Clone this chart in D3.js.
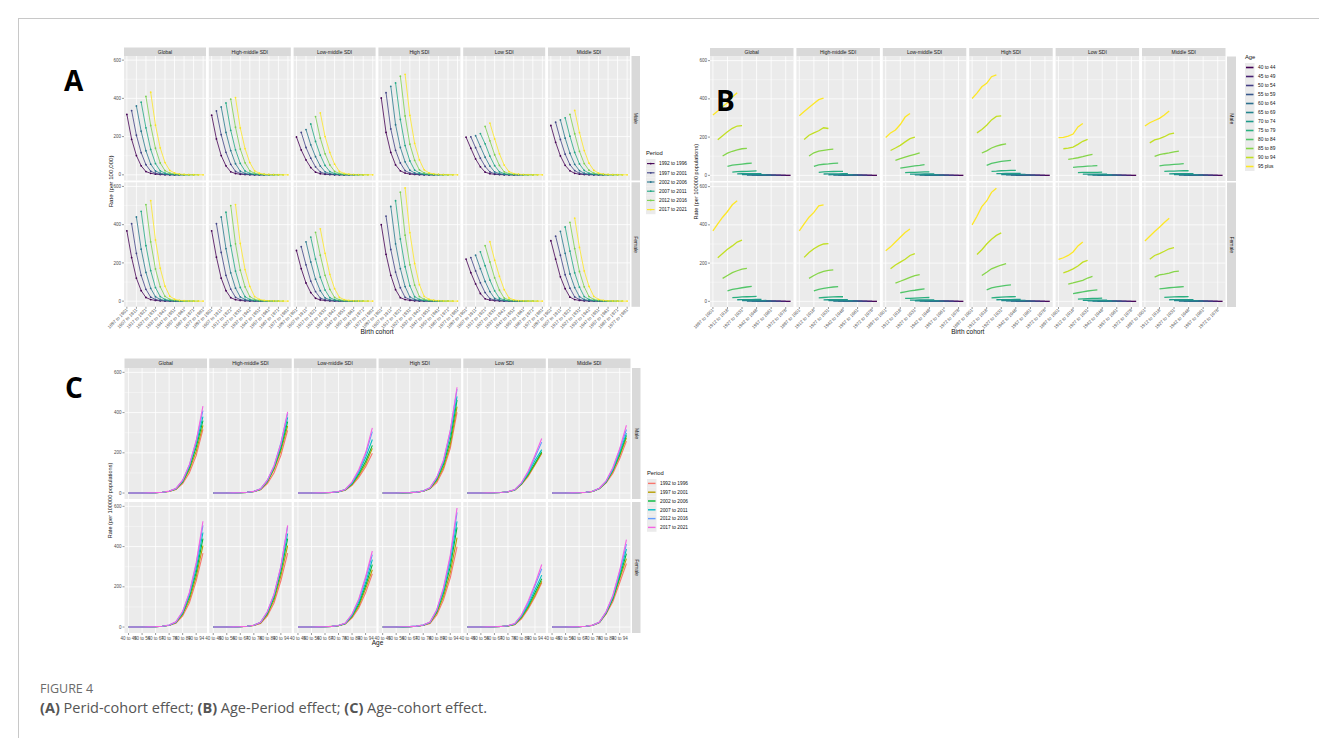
<!DOCTYPE html>
<html>
<head>
<meta charset="utf-8">
<script src="https://cdn.jsdelivr.net/npm/d3@7"></script>
<style>
  body { margin: 0; background: #fff; }
  svg { display: block; }
</style>
</head>
<body>
<div id="chart"></div>
<script>
// facet labels and factor levels
const regions = ["Global", "High-middle SDI", "Low-middle SDI", "High SDI", "Low SDI", "Middle SDI"];
const sexes = ["Male", "Female"];
const periods = ["1992 to 1996", "1997 to 2001", "2002 to 2006", "2007 to 2011", "2012 to 2016", "2017 to 2021"];
const ages = ["40 to 44", "45 to 49", "50 to 54", "55 to 59", "60 to 64", "65 to 69",
  "70 to 74", "75 to 79", "80 to 84", "85 to 89", "90 to 94", "95 plus"];
const cohorts = ["1897 to 1901", "1902 to 1906", "1907 to 1911", "1912 to 1916", "1917 to 1921",
  "1922 to 1926", "1927 to 1931", "1932 to 1936", "1937 to 1941", "1942 to 1946", "1947 to 1951",
  "1952 to 1956", "1957 to 1961", "1962 to 1966", "1967 to 1971", "1972 to 1976", "1977 to 1981"];
const yBreaks = [0, 200, 400, 600];

// rates per 100,000: one row per age group, one column per period
const globalMale = [
  [0.1, 0.1, 0.1, 0.1, 0.1, 0.1], [0.2, 0.2, 0.2, 0.2, 0.2, 0.2], [0.4, 0.4, 0.4, 0.4, 0.4, 0.4],
  [0.8, 0.8, 0.8, 0.9, 0.9, 0.9], [1.7, 1.7, 1.8, 1.8, 1.9, 1.9], [3.6, 3.7, 3.8, 3.9, 4.0, 4.1],
  [8.0, 8.3, 8.6, 8.9, 9.2, 9.5], [17, 19, 20, 21, 22, 23], [47, 53, 56, 59, 62, 64],
  [101, 116, 126, 133, 139, 141], [186, 207, 228, 246, 258, 260], [316, 336, 360, 380, 410, 432]];
const globalFemale = [
  [0.1, 0.1, 0.1, 0.1, 0.1, 0.1], [0.2, 0.2, 0.2, 0.2, 0.2, 0.2], [0.4, 0.4, 0.4, 0.4, 0.5, 0.5],
  [0.8, 0.8, 0.9, 0.9, 0.9, 1.0], [1.7, 1.8, 1.8, 1.9, 2.0, 2.0], [3.7, 3.8, 4.0, 4.1, 4.2, 4.3],
  [8.2, 8.6, 9.0, 9.3, 9.6, 9.9], [19, 21, 23, 24, 25, 26], [55, 62, 67, 71, 75, 78],
  [120, 135, 150, 160, 168, 172], [228, 250, 272, 290, 310, 320], [368, 405, 440, 470, 505, 526]];
const highMiddleMale = [
  [0.1, 0.1, 0.1, 0.1, 0.1, 0.1], [0.2, 0.2, 0.2, 0.2, 0.2, 0.2], [0.3, 0.3, 0.4, 0.4, 0.4, 0.4],
  [0.7, 0.7, 0.7, 0.8, 0.8, 0.8], [1.5, 1.5, 1.6, 1.6, 1.7, 1.7], [3.2, 3.3, 3.4, 3.5, 3.6, 3.6],
  [7.0, 7.4, 7.7, 8.0, 8.2, 8.4], [16, 18, 19, 20, 21, 21], [47, 55, 58, 60, 63, 64],
  [101, 118, 127, 131, 135, 137], [188, 210, 222, 233, 249, 245], [312, 334, 355, 376, 396, 404]];
const highMiddleFemale = [
  [0.1, 0.1, 0.1, 0.1, 0.1, 0.1], [0.2, 0.2, 0.2, 0.2, 0.2, 0.2], [0.4, 0.4, 0.4, 0.4, 0.4, 0.4],
  [0.8, 0.8, 0.8, 0.9, 0.9, 0.9], [1.6, 1.7, 1.7, 1.8, 1.8, 1.9], [3.5, 3.6, 3.8, 3.9, 4.0, 4.0],
  [7.8, 8.2, 8.6, 8.9, 9.1, 9.3], [18, 20, 22, 23, 24, 24], [55, 63, 68, 72, 75, 77],
  [120, 135, 148, 157, 162, 165], [230, 255, 275, 290, 300, 302], [368, 405, 440, 465, 500, 505]];
const lowMiddleMale = [
  [0.1, 0.1, 0.1, 0.1, 0.1, 0.1], [0.1, 0.1, 0.2, 0.2, 0.2, 0.2], [0.3, 0.3, 0.3, 0.3, 0.3, 0.3],
  [0.6, 0.6, 0.6, 0.7, 0.7, 0.7], [1.3, 1.3, 1.4, 1.4, 1.5, 1.5], [2.8, 2.9, 3.0, 3.1, 3.2, 3.3],
  [6.0, 6.3, 6.6, 6.9, 7.2, 7.4], [14, 15, 16, 17, 18, 18], [38, 42, 46, 49, 52, 56],
  [78, 87, 95, 103, 110, 117], [130, 143, 157, 175, 192, 200], [198, 222, 237, 266, 305, 324]];
const lowMiddleFemale = [
  [0.1, 0.1, 0.1, 0.1, 0.1, 0.1], [0.2, 0.2, 0.2, 0.2, 0.2, 0.2], [0.3, 0.3, 0.3, 0.4, 0.4, 0.4],
  [0.7, 0.7, 0.7, 0.7, 0.8, 0.8], [1.4, 1.4, 1.5, 1.5, 1.6, 1.6], [3.0, 3.1, 3.2, 3.3, 3.4, 3.5],
  [6.4, 6.7, 7.0, 7.3, 7.6, 7.9], [15, 16, 17, 18, 19, 20], [45, 50, 55, 58, 62, 65],
  [95, 105, 115, 125, 135, 140], [170, 190, 205, 220, 240, 250], [265, 285, 310, 335, 360, 378]];
const highMale = [
  [0.1, 0.1, 0.1, 0.1, 0.1, 0.1], [0.2, 0.2, 0.2, 0.2, 0.2, 0.2], [0.5, 0.5, 0.5, 0.5, 0.5, 0.5],
  [1.0, 1.0, 1.0, 1.1, 1.1, 1.1], [2.0, 2.1, 2.1, 2.2, 2.2, 2.3], [4.2, 4.3, 4.4, 4.5, 4.6, 4.7],
  [9.0, 9.3, 9.6, 9.9, 10.1, 10.3], [21, 22, 24, 25, 26, 26], [52, 62, 68, 73, 76, 78],
  [117, 128, 143, 153, 160, 165], [222, 240, 262, 290, 308, 311], [402, 430, 463, 481, 516, 526]];
const highFemale = [
  [0.1, 0.1, 0.1, 0.1, 0.1, 0.1], [0.2, 0.2, 0.2, 0.2, 0.2, 0.2], [0.5, 0.5, 0.5, 0.5, 0.5, 0.5],
  [1.0, 1.0, 1.0, 1.0, 1.1, 1.1], [2.0, 2.0, 2.1, 2.1, 2.2, 2.2], [4.0, 4.1, 4.3, 4.4, 4.5, 4.6],
  [8.4, 8.8, 9.2, 9.5, 9.8, 10.0], [18, 20, 22, 23, 24, 25], [60, 70, 76, 80, 84, 86],
  [135, 152, 170, 180, 190, 197], [245, 270, 300, 325, 345, 358], [400, 445, 495, 525, 570, 592]];
const lowMale = [
  [0.1, 0.1, 0.1, 0.1, 0.1, 0.1], [0.1, 0.1, 0.1, 0.2, 0.2, 0.2], [0.3, 0.3, 0.3, 0.3, 0.3, 0.3],
  [0.6, 0.6, 0.6, 0.6, 0.6, 0.7], [1.3, 1.3, 1.3, 1.4, 1.4, 1.4], [2.8, 2.8, 2.9, 2.9, 3.0, 3.0],
  [6.0, 6.1, 6.2, 6.4, 6.5, 6.7], [14, 15, 15, 16, 16, 17], [42, 44, 46, 48, 49, 51],
  [83, 87, 92, 98, 105, 110], [139, 142, 148, 162, 178, 188], [197, 199, 205, 216, 253, 271]];
const lowFemale = [
  [0.1, 0.1, 0.1, 0.1, 0.1, 0.1], [0.1, 0.1, 0.2, 0.2, 0.2, 0.2], [0.3, 0.3, 0.3, 0.3, 0.3, 0.3],
  [0.6, 0.6, 0.6, 0.6, 0.7, 0.7], [1.2, 1.2, 1.3, 1.3, 1.4, 1.4], [2.6, 2.7, 2.8, 2.9, 3.0, 3.1],
  [5.6, 5.8, 6.0, 6.3, 6.5, 6.8], [12, 13, 14, 15, 16, 17], [40, 45, 50, 54, 57, 60],
  [90, 96, 103, 110, 122, 130], [149, 158, 170, 185, 205, 214], [220, 228, 240, 258, 290, 311]];
const middleMale = [
  [0.1, 0.1, 0.1, 0.1, 0.1, 0.1], [0.2, 0.2, 0.2, 0.2, 0.2, 0.2], [0.4, 0.4, 0.4, 0.4, 0.4, 0.4],
  [0.8, 0.8, 0.8, 0.8, 0.9, 0.9], [1.6, 1.7, 1.7, 1.8, 1.8, 1.8], [3.5, 3.6, 3.7, 3.8, 3.9, 3.9],
  [8.0, 8.2, 8.4, 8.6, 8.8, 9.0], [21, 22, 22, 23, 24, 24], [50, 53, 55, 57, 59, 61],
  [99, 108, 113, 117, 123, 127], [170, 185, 192, 202, 215, 221], [258, 275, 287, 298, 316, 337]];
const middleFemale = [
  [0.1, 0.1, 0.1, 0.1, 0.1, 0.1], [0.2, 0.2, 0.2, 0.2, 0.2, 0.2], [0.4, 0.4, 0.4, 0.4, 0.4, 0.4],
  [0.8, 0.8, 0.9, 0.9, 0.9, 0.9], [1.7, 1.7, 1.8, 1.8, 1.9, 1.9], [3.6, 3.7, 3.8, 3.9, 4.0, 4.1],
  [8.3, 8.5, 8.8, 9.0, 9.2, 9.4], [21, 22, 23, 24, 24, 25], [65, 68, 71, 73, 75, 77],
  [127, 138, 142, 148, 155, 158], [220, 240, 250, 262, 275, 281], [316, 340, 365, 388, 412, 434]];

const rates = {
  "Global": [globalMale, globalFemale],
  "High-middle SDI": [highMiddleMale, highMiddleFemale],
  "Low-middle SDI": [lowMiddleMale, lowMiddleFemale],
  "High SDI": [highMale, highFemale],
  "Low SDI": [lowMale, lowFemale],
  "Middle SDI": [middleMale, middleFemale],
};

// colour palettes (viridis for A/B, ggplot hue for C)
const periodViridis = d3.scaleOrdinal(periods, periods.map((d, i) => d3.interpolateViridis(i / (periods.length - 1))));
const ageViridis = d3.scaleOrdinal(ages, ages.map((d, i) => d3.interpolateViridis(i / (ages.length - 1))));
const periodHue = d3.scaleOrdinal(periods, ["#F8766D", "#B79F00", "#00BA38", "#00BFC4", "#619CFF", "#F564E3"]);

// shared y range like ggplot facets (5% expansion)
const allVals = Object.values(rates).flat(3);
const yMax = d3.max(allVals);
const yDomain = [-0.05 * yMax, yMax * 1.05];

const W = 1319, H = 738;
const FONT = "'Liberation Sans', Arial, sans-serif";
const svg = d3.select("#chart").append("svg").attr("width", W).attr("height", H);

// figure frame
svg.append("line").attr("x1", 18).attr("x2", W).attr("y1", 18.5).attr("y2", 18.5).attr("stroke", "#c8c8c8");
svg.append("line").attr("x1", 18.5).attr("x2", 18.5).attr("y1", 18).attr("y2", H).attr("stroke", "#c8c8c8");

function cohortIndex(ageIdx, periodIdx) {
  return ages.length - 1 - ageIdx + periodIdx;
}

// series builders: each returns [{color, pts:[[xLevel, value]]}]
function seriesA(region, s) {
  const m = rates[region][s];
  return periods.map((p, j) => ({
    color: periodViridis(p),
    pts: ages.map((a, i) => [cohorts[cohortIndex(i, j)], m[i][j]]),
  }));
}
function seriesB(region, s) {
  const m = rates[region][s];
  return ages.map((a, i) => ({
    color: ageViridis(a),
    pts: periods.map((p, j) => [cohorts[cohortIndex(i, j)], m[i][j]]),
  }));
}
function seriesC(region, s) {
  const m = rates[region][s];
  return periods.map((p, j) => ({
    color: periodHue(p),
    pts: ages.map((a, i) => [a, m[i][j]]),
  }));
}

function drawGrid(cfg) {
  const x = d3.scalePoint().domain(cfg.xDomain).range([0, cfg.panelW]).padding(0.6);
  const y = d3.scaleLinear().domain(yDomain).range([cfg.panelH, 0]);
  const minor = [100, 300, 500];
  const line = d3.line().x(d => x(d[0])).y(d => y(d[1]));

  regions.forEach((reg, c) => {
    const px = cfg.left + c * cfg.colStep;
    // strip on top
    svg.append("rect").attr("x", px).attr("y", cfg.stripTop).attr("width", cfg.panelW)
      .attr("height", cfg.rowTop[0] - cfg.stripTop).attr("fill", "#d9d9d9");
    svg.append("text").attr("x", px + cfg.panelW / 2).attr("y", (cfg.stripTop + cfg.rowTop[0]) / 2 + 1.8)
      .attr("text-anchor", "middle").attr("font-size", 5).attr("fill", "#1a1a1a").text(reg);

    sexes.forEach((sex, r) => {
      const py = cfg.rowTop[r];
      const g = svg.append("g").attr("transform", `translate(${px},${py})`);
      g.append("rect").attr("width", cfg.panelW).attr("height", cfg.panelH).attr("fill", "#ebebeb");
      g.selectAll(".ymin").data(minor).join("line")
        .attr("x1", 0).attr("x2", cfg.panelW).attr("y1", d => y(d)).attr("y2", d => y(d))
        .attr("stroke", "#fff").attr("stroke-width", 0.4);
      g.selectAll(".ymaj").data(yBreaks).join("line")
        .attr("x1", 0).attr("x2", cfg.panelW).attr("y1", d => y(d)).attr("y2", d => y(d))
        .attr("stroke", "#fff").attr("stroke-width", 0.8);
      g.selectAll(".xmaj").data(cfg.xBreaks).join("line")
        .attr("x1", d => x(d)).attr("x2", d => x(d)).attr("y1", 0).attr("y2", cfg.panelH)
        .attr("stroke", "#fff").attr("stroke-width", 0.8);

      const series = cfg.series(reg, r);
      g.selectAll(".ser").data(series).join("path")
        .attr("d", d => line(d.pts)).attr("fill", "none")
        .attr("stroke", d => d.color).attr("stroke-width", cfg.lineW);
      if (cfg.points) {
        series.forEach(sr => {
          g.selectAll(null).data(sr.pts).join("circle")
            .attr("cx", d => x(d[0])).attr("cy", d => y(d[1])).attr("r", 0.9).attr("fill", sr.color);
        });
      }

      // y axis on first column
      if (c === 0) {
        const ya = svg.append("g").attr("transform", `translate(${px},${py})`);
        yBreaks.forEach(v => {
          ya.append("line").attr("x1", -2).attr("x2", 0).attr("y1", y(v)).attr("y2", y(v))
            .attr("stroke", "#333").attr("stroke-width", 0.5);
          ya.append("text").attr("x", -3).attr("y", y(v) + 1.6).attr("text-anchor", "end")
            .attr("font-size", 4.5).attr("fill", "#4d4d4d").text(v);
        });
      }
      // x axis on bottom row
      if (r === sexes.length - 1) {
        const xa = svg.append("g").attr("transform", `translate(${px},${py + cfg.panelH})`);
        cfg.xBreaks.forEach(v => {
          xa.append("line").attr("x1", x(v)).attr("x2", x(v)).attr("y1", 0).attr("y2", 2)
            .attr("stroke", "#333").attr("stroke-width", 0.5);
          if (cfg.rotate) {
            xa.append("text").attr("transform", `translate(${x(v) + 1.2},${3.5}) rotate(-45)`)
              .attr("text-anchor", "end").attr("font-size", 4.5).attr("fill", "#4d4d4d").text(v);
          } else {
            xa.append("text").attr("x", x(v)).attr("y", 7).attr("text-anchor", "middle")
              .attr("font-size", 4.5).attr("fill", "#4d4d4d").text(v);
          }
        });
      }
      // right strip on last column
      if (c === regions.length - 1) {
        const sx = px + cfg.panelW + 1.5;
        svg.append("rect").attr("x", sx).attr("y", py).attr("width", cfg.stripW).attr("height", cfg.panelH)
          .attr("fill", "#d9d9d9");
        svg.append("text").attr("transform", `translate(${sx + cfg.stripW / 2 - 1.7},${py + cfg.panelH / 2}) rotate(90)`)
          .attr("text-anchor", "middle").attr("font-size", 5).attr("fill", "#1a1a1a").text(sex);
      }
    });
  });

  // axis titles
  const gridRight = cfg.left + (regions.length - 1) * cfg.colStep + cfg.panelW;
  const gridMid = (cfg.rowTop[0] + cfg.rowTop[1] + cfg.panelH) / 2;
  svg.append("text").attr("x", (cfg.left + gridRight) / 2).attr("y", cfg.xTitleY)
    .attr("text-anchor", "middle").attr("font-size", 6.5).attr("fill", "#111").text(cfg.xTitle);
  svg.append("text").attr("transform", `translate(${cfg.yTitleX},${gridMid}) rotate(-90)`)
    .attr("text-anchor", "middle").attr("font-size", cfg.yTitleSize).attr("fill", "#111").text(cfg.yTitle);

  // legend
  const lg = svg.append("g").attr("transform", `translate(${cfg.legX},${cfg.legY})`);
  lg.append("text").attr("x", 0).attr("y", 0).attr("font-size", 5.8).attr("fill", "#111").text(cfg.legTitle);
  cfg.legKeys.forEach((k, i) => {
    const ky = 4 + i * cfg.legStep;
    lg.append("rect").attr("x", 0).attr("y", ky).attr("width", 9.5).attr("height", cfg.legStep)
      .attr("fill", "#ebebeb");
    lg.append("line").attr("x1", 1).attr("x2", 8.5).attr("y1", ky + cfg.legStep / 2).attr("y2", ky + cfg.legStep / 2)
      .attr("stroke", cfg.legColor(k)).attr("stroke-width", cfg.lineW + 0.3);
    if (cfg.points) {
      lg.append("circle").attr("cx", 4.75).attr("cy", ky + cfg.legStep / 2).attr("r", 0.9).attr("fill", cfg.legColor(k));
    }
    lg.append("text").attr("x", 13).attr("y", ky + cfg.legStep / 2 + 1.7).attr("font-size", 4.8)
      .attr("fill", "#111").text(k);
  });
}

svg.attr("font-family", FONT);

// (A) period-cohort
drawGrid({
  left: 124, colStep: 84.8, panelW: 82, panelH: 124.5, stripTop: 47.5, rowTop: [56, 182.3], stripW: 8.5,
  xDomain: cohorts, xBreaks: cohorts.filter((d, i) => i % 2 === 0), rotate: true,
  series: seriesA, points: true, lineW: 0.8,
  xTitle: "Birth cohort", xTitleY: 334, yTitle: "Rate (per 100,000)", yTitleX: 113, yTitleSize: 6.2,
  legTitle: "Period", legKeys: periods, legColor: periodViridis, legX: 646, legY: 155, legStep: 9.2,
});

// (B) age-period
drawGrid({
  left: 710, colStep: 86.4, panelW: 83.5, panelH: 124.5, stripTop: 48, rowTop: [56.5, 182.5], stripW: 9,
  xDomain: cohorts, xBreaks: cohorts.filter((d, i) => i % 3 === 0), rotate: true,
  series: seriesB, points: false, lineW: 1.3,
  xTitle: "Birth cohort", xTitleY: 334, yTitle: "Rate (per 100000 populations)", yTitleX: 698, yTitleSize: 5.6,
  legTitle: "Age", legKeys: ages, legColor: ageViridis, legX: 1245, legY: 59, legStep: 9,
});

// (C) age-cohort
drawGrid({
  left: 124.5, colStep: 84.7, panelW: 82.5, panelH: 131, stripTop: 358.5, rowTop: [368, 502], stripW: 8.5,
  xDomain: ages, xBreaks: ages.filter((d, i) => i % 2 === 0), rotate: false,
  series: seriesC, points: false, lineW: 1.1,
  xTitle: "Age", xTitleY: 645, yTitle: "Rate (per 100000 populations)", yTitleX: 112, yTitleSize: 5.6,
  legTitle: "Period", legKeys: periods, legColor: periodHue, legX: 647, legY: 475, legStep: 8.8,
});

// panel letters
[["A", 64, 91], ["B", 716, 111], ["C", 65, 398]].forEach(([t, x, y]) => {
  svg.append("text").attr("x", x).attr("y", y).attr("font-size", 28).attr("font-weight", "bold")
    .attr("font-family", "'Open Sans', Arial, sans-serif").attr("fill", "#000").text(t);
});

// caption
svg.append("text").attr("x", 40).attr("y", 693).attr("font-size", 12.5).attr("fill", "#6b6b6b")
  .attr("font-family", "'Open Sans', sans-serif").text("FIGURE 4");
const cap = svg.append("text").attr("x", 40).attr("y", 713).attr("font-size", 14.5).attr("fill", "#555")
  .attr("font-family", "'Open Sans', sans-serif");
[["(A)", true], [" Perid-cohort effect; ", false], ["(B)", true], [" Age-Period effect; ", false],
 ["(C)", true], [" Age-cohort effect.", false]].forEach(([t, b]) => {
  cap.append("tspan").attr("font-weight", b ? "bold" : "normal").text(t);
});
</script>
</body>
</html>
